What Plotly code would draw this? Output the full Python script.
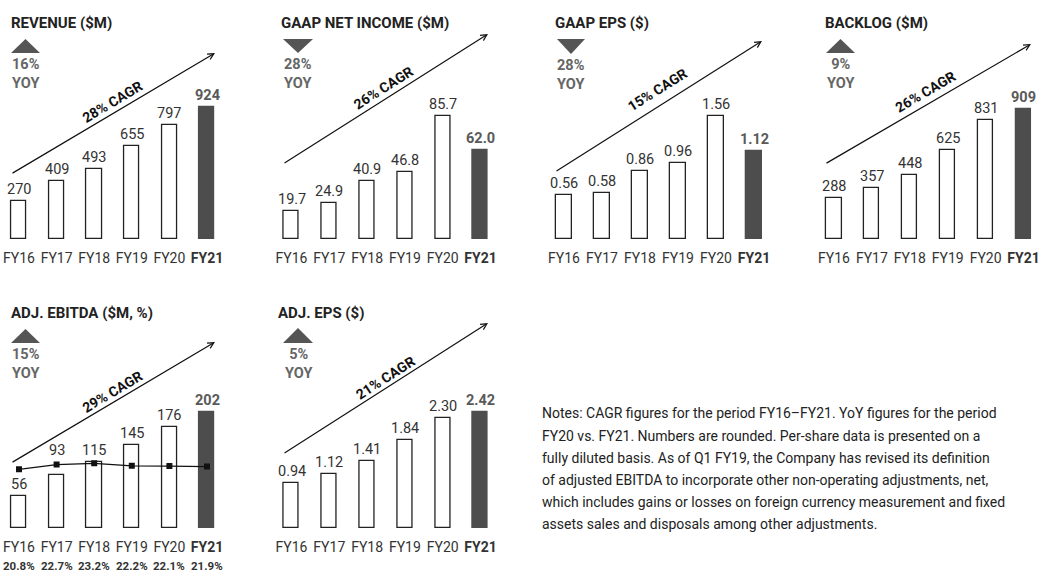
import math
import plotly.graph_objects as go

# ---------------- data ----------------
categories = ["FY16", "FY17", "FY18", "FY19", "FY20", "FY21"]
tick_labels = ["FY16", "FY17", "FY18", "FY19", "FY20", "<b>FY21</b>"]

revenue = [270, 409, 493, 655, 797, 924]
net_income = [19.7, 24.9, 40.9, 46.8, 85.7, 62.0]
gaap_eps = [0.56, 0.58, 0.86, 0.96, 1.56, 1.12]
backlog = [288, 357, 448, 625, 831, 909]
adj_ebitda = [56, 93, 115, 145, 176, 202]
ebitda_margin = [20.8, 22.7, 23.2, 22.2, 22.1, 21.9]
adj_eps = [0.94, 1.12, 1.41, 1.84, 2.30, 2.42]

titles = ["REVENUE ($M)", "GAAP NET INCOME ($M)", "GAAP EPS ($)",
          "BACKLOG ($M)", "ADJ. EBITDA ($M, %)", "ADJ. EPS ($)"]
cagr_labels = ["28% CAGR", "26% CAGR", "15% CAGR", "26% CAGR", "29% CAGR", "21% CAGR"]
yoy_labels = ["16%", "28%", "28%", "9%", "15%", "5%"]
yoy_direction = ["up", "down", "down", "up", "up", "up"]
value_formats = ["{:.0f}", "{:.1f}", "{:.2f}", "{:.0f}", "{:.0f}", "{:.2f}"]
series = [revenue, net_income, gaap_eps, backlog, adj_ebitda, adj_eps]

notes_lines = [
    "Notes: CAGR figures for the period FY16\u2013FY21. YoY figures for the period",
    "FY20 vs. FY21. Numbers are rounded. Per-share data is presented on a",
    "fully diluted basis. As of Q1 FY19, the Company has revised its definition",
    "of adjusted EBITDA to incorporate other non-operating adjustments, net,",
    "which includes gains or losses on foreign currency measurement and fixed",
    "assets sales and disposals among other adjustments.",
]

# ---------------- layout geometry (pixels) ----------------
W, H = 1040, 572
FONT = "Roboto"


def px(x):
    return x / W


def py(y):
    return 1 - y / H


panels = [
    dict(c0=19, c5=207, base=239, scale=0.1425, title=(9, 23), tri=(11, 40, 39, 53),
         arrow=((11, 174), (215, 53)), cagr=(112, 102)),
    dict(c0=291.5, c5=480.5, base=239, scale=1.43, title=(279, 23), tri=(283, 313, 39, 53),
         arrow=((283, 164), (488, 34)), cagr=(383, 88)),
    dict(c0=564, c5=754, base=239, scale=79, title=(553, 23), tri=(557, 585, 39, 54),
         arrow=((555, 172), (762, 41)), cagr=(657, 90)),
    dict(c0=834, c5=1023.5, base=239, scale=0.143, title=(823, 23), tri=(826, 855, 39, 53),
         arrow=((825, 164), (1031, 44)), cagr=(925, 92)),
    dict(c0=19, c5=207, base=528, scale=0.574, title=(9, 313), tri=(11, 40, 329, 343),
         arrow=((11, 463), (215, 342)), cagr=(112, 392)),
    dict(c0=291.5, c5=480.5, base=528, scale=47.8, title=(276, 313), tri=(283, 313, 328, 343),
         arrow=((283, 454), (488, 323)), cagr=(385, 378)),
]
# extra lift (px) for labels that would collide with the margin line
label_lift = {(4, 1): 13}

DARK = "#222222"
BAR_DARK = "#4d4d4d"
GRAY = "#5a5a5a"
PAD_L, PAD_R = 0.5, 0.4

fig = go.Figure()
annotations = []
shapes = []
layout_axes = {}

for i, (p, vals) in enumerate(zip(panels, series)):
    n = i + 1
    xa = "x" if n == 1 else f"x{n}"
    ya = "y" if n == 1 else f"y{n}"
    step = (p["c5"] - p["c0"]) / 5
    top = p["base"] - 210
    xdom = [px(p["c0"] - step * PAD_L), px(p["c5"] + step * PAD_R)]
    ydom = [py(p["base"]), py(top)]
    yrange = [0, (p["base"] - top) / p["scale"]]

    fills = ["white"] * 5 + [BAR_DARK]
    lines = [DARK] * 5 + [BAR_DARK]
    fig.add_trace(go.Bar(
        x=categories, y=vals, xaxis=xa, yaxis=ya, width=0.4,
        marker=dict(color=fills, line=dict(color=lines, width=1.3)),
        hoverinfo="skip", showlegend=False,
    ))

    layout_axes[f"xaxis{'' if n == 1 else n}"] = dict(
        domain=xdom, anchor=ya, type="category", range=[-PAD_L, 5 + PAD_R],
        showgrid=False, zeroline=False, showline=False, ticks="",
        tickvals=categories, ticktext=tick_labels,
        tickfont=dict(family=FONT, size=14, color="#333333"),
        ticklabelstandoff=9, fixedrange=True,
    )
    layout_axes[f"yaxis{'' if n == 1 else n}"] = dict(
        domain=ydom, anchor=xa, range=yrange, visible=False, fixedrange=True,
    )

    # value labels
    for j, (c, v) in enumerate(zip(categories, vals)):
        last = j == 5
        annotations.append(dict(
            x=c, y=v, xref=xa, yref=ya, text=value_formats[i].format(v),
            showarrow=False, yanchor="bottom", yshift=1 + label_lift.get((i, j), 0),
            font=dict(family=FONT, size=14.5, color=GRAY if last else "#333333",
                      weight="bold" if last else "normal"),
        ))

    # title
    tx, ty = p["title"]
    annotations.append(dict(
        x=px(tx), y=py(ty), xref="paper", yref="paper", text=titles[i],
        showarrow=False, xanchor="left", yanchor="middle",
        font=dict(family=FONT, size=15, color=DARK, weight="bold"),
    ))

    # YoY triangle
    x0, x1, yt, yb = p["tri"]
    xm = (x0 + x1) / 2
    if yoy_direction[i] == "up":
        path = f"M{px(x0)},{py(yb)} L{px(x1)},{py(yb)} L{px(xm)},{py(yt)} Z"
    else:
        path = f"M{px(x0)},{py(yt)} L{px(x1)},{py(yt)} L{px(xm)},{py(yb)} Z"
    shapes.append(dict(type="path", path=path, xref="paper", yref="paper",
                       fillcolor="#555555", line=dict(width=0)))
    annotations.append(dict(
        x=px(xm), y=py(yb + 21.5), xref="paper", yref="paper",
        text=f"{yoy_labels[i]}<br>YOY", showarrow=False,
        xanchor="center", yanchor="middle", align="center",
        font=dict(family=FONT, size=14.5, color="#666666", weight="bold"),
    ))

    # CAGR arrow
    (tlx, tly), (hx, hy) = p["arrow"]
    annotations.append(dict(
        x=px(hx), y=py(hy), xref="paper", yref="paper", text="",
        showarrow=True, axref="pixel", ayref="pixel",
        ax=tlx - hx, ay=tly - hy, arrowhead=5, arrowsize=1.0,
        arrowwidth=1.2, arrowcolor="#111111", standoff=0, startstandoff=0,
    ))
    angle = math.degrees(math.atan2(tly - hy, hx - tlx))
    cx, cy = p["cagr"]
    annotations.append(dict(
        x=px(cx), y=py(cy), xref="paper", yref="paper", text=cagr_labels[i],
        showarrow=False, textangle=-angle, xanchor="center", yanchor="middle",
        font=dict(family=FONT, size=14, color="#111111", weight="bold"),
    ))

# EBITDA margin line on an overlaying axis
p5 = panels[4]
m_px_per_pct = 2.5
m_ref_val, m_ref_px = 20.8, 469.3
top5 = p5["base"] - 210
m_lo = m_ref_val - (p5["base"] - m_ref_px) / m_px_per_pct
m_hi = m_lo + (p5["base"] - top5) / m_px_per_pct
fig.add_trace(go.Scatter(
    x=categories, y=ebitda_margin, xaxis="x5", yaxis="y7", mode="lines+markers",
    line=dict(color="#111111", width=1.3),
    marker=dict(symbol="square", size=6, color="#111111"),
    hoverinfo="skip", showlegend=False,
))
layout_axes["yaxis7"] = dict(overlaying="y5", anchor="x5", range=[m_lo, m_hi],
                             visible=False, fixedrange=True)
for c, m in zip(categories, ebitda_margin):
    annotations.append(dict(
        x=c, y=py(566), xref="x5", yref="paper", text=f"{m:.1f}%",
        showarrow=False, xanchor="center", yanchor="middle",
        font=dict(family=FONT, size=11.5, color="#333333", weight="bold"),
    ))

# Notes
note_y = [413.3, 435.5, 457.7, 480, 502, 524.3]
for line, yy in zip(notes_lines, note_y):
    annotations.append(dict(
        x=px(540), y=py(yy), xref="paper", yref="paper", text=line,
        showarrow=False, xanchor="left", yanchor="middle",
        font=dict(family=FONT, size=14, color="#222222"),
    ))

fig.update_layout(
    width=W, height=H, margin=dict(l=0, r=0, t=0, b=0),
    paper_bgcolor="white", plot_bgcolor="rgba(0,0,0,0)",
    annotations=annotations, shapes=shapes, bargap=0,
    **layout_axes,
)

fig.write_html("out.html", config={"displayModeBar": False})
